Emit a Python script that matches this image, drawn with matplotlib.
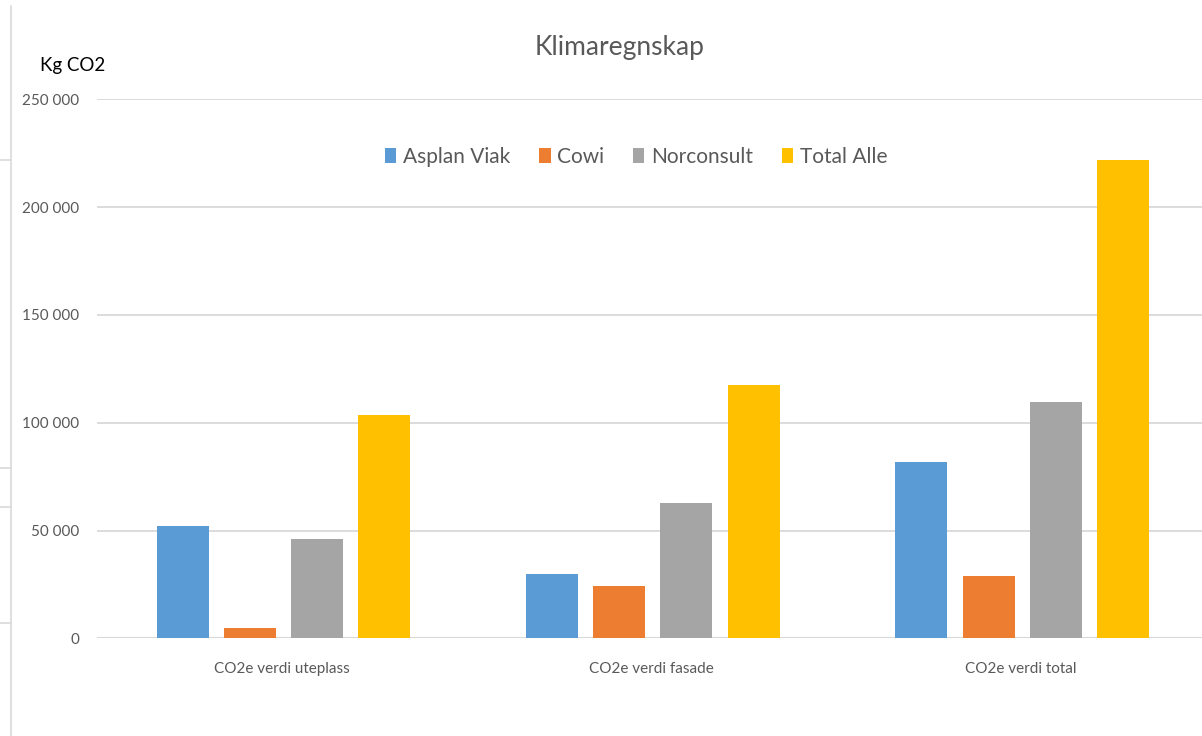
import matplotlib
matplotlib.use('Agg')
import numpy as np
import matplotlib.pyplot as plt
from matplotlib.ticker import FuncFormatter
from matplotlib.lines import Line2D

plt.rcParams['font.family'] = ['Lato', 'DejaVu Sans']

categories = ['CO2e verdi uteplass', 'CO2e verdi fasade', 'CO2e verdi total']
series_names = ['Asplan Viak', 'Cowi', 'Norconsult', 'Total Alle']
asplan_viak = [52200, 29800, 81800]
cowi = [4800, 24300, 28900]
norconsult = [45900, 62800, 109600]
total_alle = [103400, 117500, 221700]
yticks = [0, 50000, 100000, 150000, 200000, 250000]

COLORS = ['#5B9BD5', '#ED7D31', '#A5A5A5', '#FFC000']
TEXT = '#595959'
GRID = '#D9D9D9'

fig = plt.figure(figsize=(12.02, 7.36), dpi=100)
ax = fig.add_axes([97 / 1202, 1 - 638.3 / 736, 1108 / 1202, 539 / 736])

x = np.arange(len(categories))
width = 0.141
step = 0.182
for i, (name, vals) in enumerate(zip(series_names, [asplan_viak, cowi, norconsult, total_alle])):
    ax.bar(x + (i - 1.5) * step + 0.005, vals, width, color=COLORS[i], label=name, zorder=3)

ax.set_xlim(-0.5, 2.5)
ax.set_ylim(0, 250000)
ax.set_yticks(yticks)
ax.yaxis.set_major_formatter(FuncFormatter(lambda v, p: f'{int(v):,}'.replace(',', ' ')))
ax.set_xticks(x)
ax.set_xticklabels(categories)
ax.tick_params(axis='y', length=0, pad=13, labelsize=11, labelcolor=TEXT)
ax.tick_params(axis='x', length=0, pad=17, labelsize=11, labelcolor=TEXT)
ax.grid(axis='y', color=GRID, linewidth=1.3, zorder=0)
for s in ax.spines.values():
    s.set_visible(False)
ax.axhline(0, color=GRID, linewidth=1.5, zorder=2)

fig.text(620 / 1202, 1 - 48 / 736, 'Klimaregnskap', ha='center', va='center',
         fontsize=19, color=TEXT)
fig.text(40 / 1202, 1 - 65 / 736, 'Kg CO2', ha='left', va='center',
         fontsize=13.5, color='black')

ax.legend(loc='center', bbox_to_anchor=(636 / 1202, 1 - 157 / 736),
          bbox_transform=fig.transFigure, ncol=4, frameon=False,
          fontsize=15, handlelength=0.55, handleheight=0.7, handletextpad=0.3,
          columnspacing=1.4, labelcolor=TEXT)

# leftover sheet border lines
fig.add_artist(Line2D([11 / 1202, 11 / 1202], [0, 1 - 6 / 736], color=GRID, linewidth=1.2))
for yy in [160, 468, 507, 623]:
    fig.add_artist(Line2D([0, 11 / 1202], [1 - yy / 736, 1 - yy / 736], color=GRID, linewidth=1.2))

fig.savefig('out.png', dpi=100)
